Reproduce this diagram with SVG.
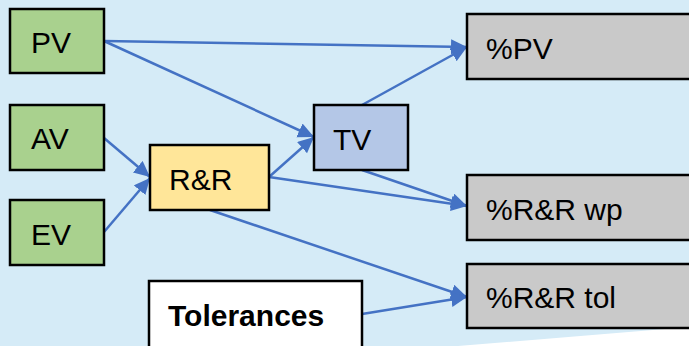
<svg xmlns="http://www.w3.org/2000/svg" width="689" height="346" viewBox="0 0 689 346">
<style>
.box{stroke:#000;stroke-width:2.5}
.t{font-family:"Liberation Sans",Arial,sans-serif;font-size:30px;fill:#000}
.b{font-weight:bold}
.c{stroke:#4472C4;stroke-width:2.5;fill:none;marker-end:url(#ah)}
</style>
<defs>
<marker id="ah" markerUnits="userSpaceOnUse" markerWidth="18" markerHeight="16" refX="16" refY="7.5" orient="auto">
<path d="M0,0 L16,7.5 L0,15 Z" fill="#4472C4"/>
</marker>
</defs>
<rect x="0" y="0" width="689" height="346" fill="#D5EBF7"/>
<polygon points="458,346 689,327 689,346" fill="#FFFFFF"/>
<g id="connectors">
<line class="c" x1="104" y1="41" x2="467" y2="47"/>
<line class="c" x1="104" y1="41" x2="314" y2="137"/>
<line class="c" x1="104" y1="138" x2="150" y2="177"/>
<line class="c" x1="104" y1="232" x2="150" y2="178"/>
<line class="c" x1="269" y1="177" x2="314" y2="137"/>
<line class="c" x1="362" y1="105" x2="467" y2="47"/>
<line class="c" x1="362" y1="170" x2="467" y2="206"/>
<line class="c" x1="269" y1="177" x2="467" y2="206"/>
<line class="c" x1="210" y1="210" x2="467" y2="297"/>
<line class="c" x1="362" y1="314" x2="467" y2="297"/>
</g>
<g id="PV"><rect class="box" x="10" y="9" width="94" height="64" fill="#A9D18E"/><text class="t" x="31" y="53">PV</text></g>
<g id="AV"><rect class="box" x="10" y="105" width="94" height="65" fill="#A9D18E"/><text class="t" x="31" y="149">AV</text></g>
<g id="EV"><rect class="box" x="10" y="200" width="94" height="65" fill="#A9D18E"/><text class="t" x="31" y="245">EV</text></g>
<g id="RR"><rect class="box" x="150" y="145" width="119" height="65" fill="#FFE699"/><text class="t" x="169" y="190">R&amp;R</text></g>
<g id="TV"><rect class="box" x="314" y="105" width="94" height="65" fill="#B4C7E7"/><text class="t" x="333" y="150">TV</text></g>
<g id="pctPV"><rect class="box" x="467" y="14" width="230" height="65" fill="#C9C9C9"/><text class="t" x="486" y="59">%PV</text></g>
<g id="pctRRwp"><rect class="box" x="467" y="175" width="230" height="65" fill="#C9C9C9"/><text class="t" x="486" y="220">%R&amp;R wp</text></g>
<g id="pctRRtol"><rect class="box" x="467" y="264" width="230" height="64" fill="#C9C9C9"/><text class="t" x="486" y="308">%R&amp;R tol</text></g>
<g id="Tolerances"><rect class="box" x="149" y="281" width="213" height="80" fill="#FFFFFF"/><text class="t b" x="168" y="326">Tolerances</text></g>
</svg>
